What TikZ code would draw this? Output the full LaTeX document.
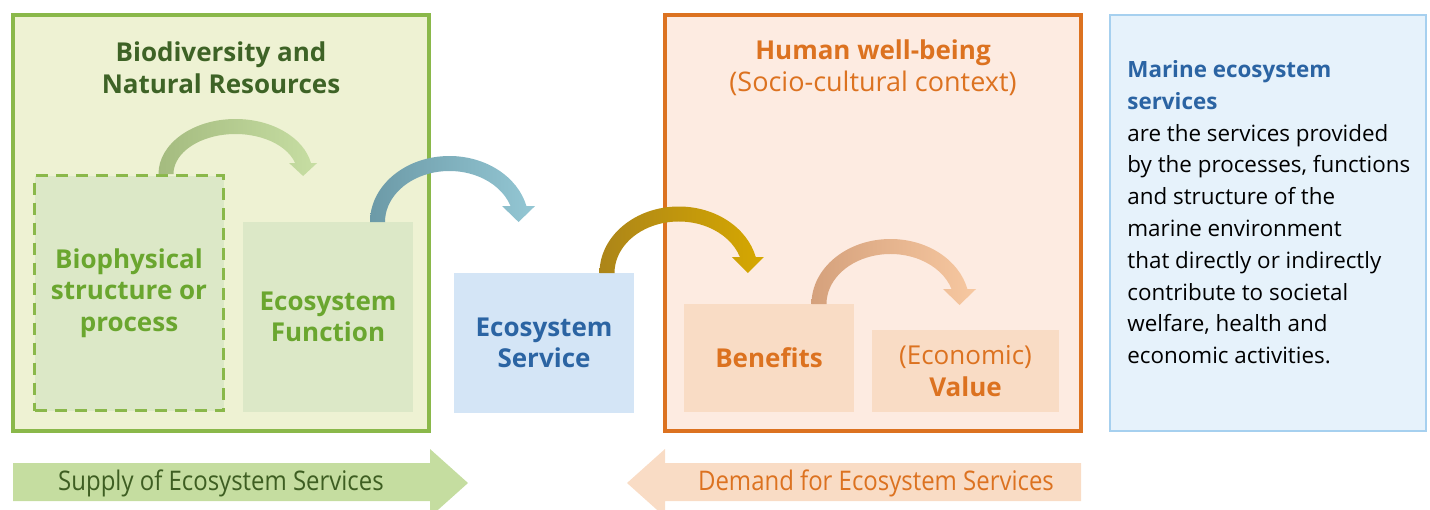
\documentclass[tikz,border=0pt]{standalone}
\usepackage{fontspec}
\setmainfont{Open Sans}
\newfontfamily\condfont[FakeStretch=0.887]{Open Sans}
\usetikzlibrary{positioning}

\definecolor{greenline}{HTML}{8AB84A}
\definecolor{greenback}{HTML}{EEF2D3}
\definecolor{greenbox}{HTML}{DCE8C7}
\definecolor{greentitle}{HTML}{3E6326}
\definecolor{greentext}{HTML}{6AA62F}
\definecolor{bluebox}{HTML}{D4E5F6}
\definecolor{bluetext}{HTML}{2B64A3}
\definecolor{orangeline}{HTML}{DC7220}
\definecolor{orangeback}{HTML}{FDEBE1}
\definecolor{orangebox}{HTML}{F9DCC5}
\definecolor{infoline}{HTML}{A6D0EF}
\definecolor{infoback}{HTML}{E6F2FB}
\definecolor{supplycol}{HTML}{C5DDA0}
\definecolor{supplytext}{HTML}{3E5E22}
\definecolor{arrA1}{HTML}{A4BB7F}
\definecolor{arrA2}{HTML}{C7DEA3}
\definecolor{arrB1}{HTML}{6C9AA7}
\definecolor{arrB2}{HTML}{94C7D4}
\definecolor{arrC1}{HTML}{AC8519}
\definecolor{arrC2}{HTML}{D6A800}
\definecolor{arrD1}{HTML}{D5A17C}
\definecolor{arrD2}{HTML}{F7C8A1}

\begin{document}
\begin{tikzpicture}[x=0.5pt,y=-0.5pt]
    \tikzstyle{frame}=[inner sep=0pt, line width=2pt, minimum width=208pt, minimum height=208pt]
    \tikzstyle{stage}=[inner sep=0pt, align=center, font=\fontsize{13}{15.8}\selectfont\bfseries]
    \tikzstyle{title}=[inner sep=0pt, align=center, font=\fontsize{13.5}{16}\selectfont]
    \tikzstyle{band}=[inner sep=0pt, font=\condfont\fontsize{13.5}{15}\selectfont]

    \clip (0,0) rectangle (1430,509);

    % Draw the supply side
    \node[frame, draw=greenline, fill=greenback] (supply) at (221,223) {};
    \node[title, text=greentitle, font=\fontsize{13}{16}\selectfont\bfseries] (biotitle) at (221,68)
        {Biodiversity and\\Natural Resources};
    \node[stage, draw=greenline, fill=greenbox, line width=1.5pt, dash pattern=on 6pt off 4pt,
        minimum width=94.5pt, minimum height=117.5pt, text=greentext] (bio) at (129,293)
        {Biophysical\\structure or\\process};
    \node[stage, fill=greenbox, minimum width=85pt, minimum height=95pt, text=greentext] (func) at (328,317)
        {Ecosystem\\Function};

    % Draw the service in between
    \node[stage, fill=bluebox, minimum width=90pt, minimum height=70pt, text=bluetext] (serv) at (544,343)
        {Ecosystem\\Service};

    % Draw the demand side
    \node[frame, draw=orangeline, fill=orangeback] (wellbeing) at (873,223) {};
    \node[title, text=orangeline] (welltitle) at (873,68)
        {{\fontsize{13}{16}\selectfont\bfseries Human well-being}\\(Socio-cultural context)};
    \node[stage, fill=orangebox, minimum width=85pt, minimum height=54pt, text=orangeline] (benefit) at (769,358)
        {Benefits};
    \node[stage, fill=orangebox, minimum width=93.5pt, minimum height=41pt, text=orangeline] (value) at (965.5,371)
        {\mdseries(Economic)\\Value};

    % Draw the definition box
    \node[inner sep=0pt, draw=infoline, fill=infoback, line width=1pt,
        minimum width=158pt, minimum height=208pt] (info) at (1268,223) {};
    \node[inner sep=0pt, anchor=north west, align=left, font=\fontsize{11.2}{15.9}\selectfont] (infotext) at (1127,60)
        {\textcolor{bluetext}{\bfseries Marine ecosystem}\\
         \textcolor{bluetext}{\bfseries services}\\
         are the services provided\\
         by the processes, functions\\
         and structure of the\\
         marine environment\\
         that directly or indirectly\\
         contribute to societal\\
         welfare, health and\\
         economic activities.};

    % Draw the curved arrows between the stages
    \foreach \sx/\by/\ra/\rb/\h/\hw/\hd/\ca/\cb in {
        166/174/69.5/47.5/11/14/13/arrA1/arrA2,
        377.5/222/71.9/58.5/16/16.5/16/arrB1/arrB2,
        607/273/71.8/59/16/16/16/arrC1/arrC2,
        819/304/71.5/57.5/15/16.5/16/arrD1/arrD2}
    {
        \pgfmathsetmacro\cx{\sx+\ra}
        \pgfmathsetmacro\ao{\ra+7.5}
        \pgfmathsetmacro\ai{\ra-7.5}
        \pgfmathsetmacro\bo{\rb+7.5}
        \pgfmathsetmacro\bi{\rb-7.5}
        \pgfmathsetmacro\tho{asin(\h/\bo)}
        \pgfmathsetmacro\thi{asin(\h/\bi)}
        \pgfmathsetmacro\hx{\cx+\ra*cos(asin(\h/\rb))}
        \pgfmathsetmacro\ix{\cx+\ai*cos(\thi)}
        \pgfmathsetmacro\rxo{\ao/2}
        \pgfmathsetmacro\ryo{\bo/2}
        \pgfmathsetmacro\rxi{\ai/2}
        \pgfmathsetmacro\ryi{\bi/2}
        \shade[left color=\ca, right color=\cb]
            (\cx-\ao,\by) arc[start angle=180, end angle=\tho, x radius=\rxo pt, y radius=\ryo pt]
            -- (\hx+\hw,\by-\h) -- (\hx,\by-\h+\hd) -- (\hx-\hw,\by-\h)
            -- (\ix,\by-\h) arc[start angle=\thi, end angle=180, x radius=\rxi pt, y radius=\ryi pt]
            -- cycle;
    }

    % Draw the supply and demand arrows
    \fill[supplycol] (13,463) -- (430,463) -- (430,449) -- (468,483) -- (430,517)
        -- (430,501) -- (13,501) -- cycle;
    \node[band, text=supplytext] (supplylabel) at (221,483) {Supply of Ecosystem Services};
    \fill[orangebox] (1081,463) -- (665,463) -- (665,449) -- (627,483) -- (665,517)
        -- (665,501) -- (1081,501) -- cycle;
    \node[band, text=orangeline] (demandlabel) at (876,483) {Demand for Ecosystem Services};
\end{tikzpicture}
\end{document}
